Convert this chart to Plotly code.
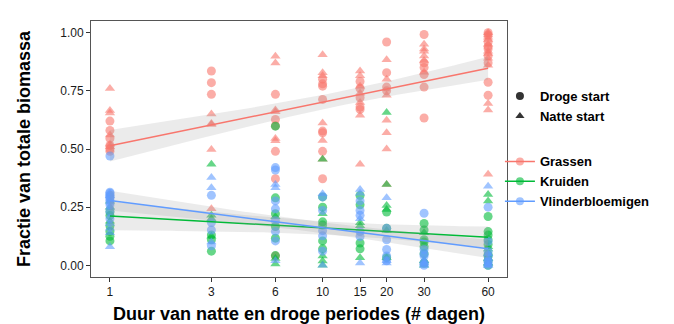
import numpy as np
import plotly.graph_objects as go

# ---- data ----
tick_vals = [1, 3, 6, 10, 15, 20, 30, 60]
tick_text = ["1", "3", "6", "10", "15", "20", "30", "60"]
y_ticks = [0, 0.25, 0.5, 0.75, 1.0]
y_tick_text = ["0.00", "0.25", "0.50", "0.75", "1.00"]

groups = ["Grassen", "Kruiden", "Vlinderbloemigen"]
colors = {"Grassen": "#F8766D", "Kruiden": "#00BA38", "Vlinderbloemigen": "#619CFF"}

grassen_droge = {
    1: [0.62, 0.58, 0.545, 0.515, 0.50, 0.49],
    3: [0.835, 0.785, 0.735],
    6: [0.735, 0.627, 0.60, 0.49, 0.372, 0.04],
    10: [0.80, 0.78, 0.77, 0.713, 0.577, 0.57, 0.49, 0.372],
    15: [0.79, 0.76, 0.72, 0.68, 0.67],
    20: [0.96, 0.828, 0.766, 0.75],
    30: [0.992, 0.87, 0.85, 0.82, 0.766, 0.633],
    60: [1.0, 0.99, 0.96, 0.94, 0.93, 0.90, 0.87, 0.787, 0.731],
}
grassen_natte = {
    1: [0.76, 0.665, 0.655, 0.56, 0.52, 0.51],
    3: [0.65, 0.61, 0.605, 0.498, 0.243],
    6: [0.898, 0.87, 0.668, 0.66, 0.545, 0.535],
    10: [0.905, 0.828, 0.815, 0.612, 0.536, 0.456],
    15: [0.835, 0.815, 0.77, 0.74, 0.70, 0.645, 0.434],
    20: [0.884, 0.80, 0.731, 0.623, 0.57, 0.50, 0.347],
    30: [0.95, 0.93, 0.92, 0.90, 0.88, 0.83],
    60: [1.0, 0.99, 0.98, 0.97, 0.95, 0.92, 0.91, 0.89, 0.86, 0.696, 0.668, 0.392],
}
kruiden_droge = {
    1: [0.23, 0.214, 0.17, 0.146, 0.125, 0.105],
    3: [0.131, 0.11, 0.061],
    6: [0.598, 0.29, 0.222, 0.167, 0.117, 0.042],
    10: [0.294, 0.25, 0.187, 0.173, 0.105, 0.071],
    15: [0.30, 0.26, 0.096, 0.071],
    20: [0.229, 0.159, 0.033],
    30: [0.18, 0.152, 0.11, 0.10, 0.08, 0.05, 0.01],
    60: [0.21, 0.145, 0.13, 0.11, 0.09, 0.047, 0.04, 0.02, 0.0],
}
kruiden_natte = {
    1: [0.276, 0.25, 0.19],
    3: [0.434, 0.215, 0.20, 0.125],
    6: [0.209, 0.03, 0.006],
    10: [0.456, 0.222, 0.04, 0.019, 0.0],
    15: [0.183, 0.17, 0.033],
    20: [0.657, 0.347, 0.257, 0.24, 0.15, 0.033],
    30: [0.14, 0.02, 0.0],
    60: [0.305, 0.277, 0.08, 0.07, 0.03, 0.01],
}
vlinder_droge = {
    1: [0.47, 0.314, 0.31, 0.30, 0.293, 0.29, 0.28, 0.27, 0.26, 0.23, 0.20],
    3: [0.301, 0.184, 0.152, 0.084],
    6: [0.42, 0.41, 0.277, 0.243, 0.192, 0.146, 0.105],
    10: [0.294, 0.236, 0.149, 0.127, 0.061],
    15: [0.277, 0.236, 0.215, 0.145, 0.124],
    20: [0.159, 0.11, 0.068, 0.04, 0.02],
    30: [0.224, 0.068, 0.05, 0.04, 0.01, 0.0],
    60: [0.25, 0.103, 0.06, 0.04, 0.02, 0.012, 0.0],
}
vlinder_natte = {
    1: [0.31, 0.30, 0.25, 0.18, 0.16, 0.14, 0.08],
    3: [0.378, 0.333, 0.10],
    6: [0.347, 0.333, 0.02],
    10: [0.308, 0.0],
    15: [0.326, 0.31, 0.20, 0.01],
    20: [0.29, 0.02, 0.01],
    30: [0.02, 0.01, 0.0],
    60: [0.34, 0.05, 0.03, 0.01, 0.0, 0.0],
}

series = {
    "Grassen": (grassen_droge, grassen_natte),
    "Kruiden": (kruiden_droge, kruiden_natte),
    "Vlinderbloemigen": (vlinder_droge, vlinder_natte),
}


def flatten(d):
    xs, ys = [], []
    for k, vals in d.items():
        for v in vals:
            xs.append(k)
            ys.append(v)
    return xs, ys


fig = go.Figure()

# points
for g in groups:
    for d, sym in zip(series[g], ["circle", "triangle-up"]):
        xs, ys = flatten(d)
        fig.add_trace(go.Scatter(
            x=xs, y=ys, mode="markers", showlegend=False,
            marker=dict(symbol=sym, size=9, color=colors[g], opacity=0.6,
                        line=dict(width=0)),
            hoverinfo="skip"))

# linear fits on log10(x) with 95% CI (like geom_smooth(method="lm"))
t95 = 1.97
for g in groups:
    xs, ys = [], []
    for d in series[g]:
        a, b = flatten(d)
        xs += a
        ys += b
    lx = np.log10(np.array(xs, float))
    yv = np.array(ys, float)
    n = len(lx)
    slope, intercept = np.polyfit(lx, yv, 1)
    resid = yv - (intercept + slope * lx)
    s = np.sqrt(np.sum(resid ** 2) / (n - 2))
    xbar = lx.mean()
    sxx = np.sum((lx - xbar) ** 2)
    grid = np.linspace(lx.min(), lx.max(), 80)
    fit = intercept + slope * grid
    se = s * np.sqrt(1.0 / n + (grid - xbar) ** 2 / sxx)
    up = fit + t95 * se
    lo = fit - t95 * se
    gx = 10 ** grid
    fig.add_trace(go.Scatter(
        x=np.concatenate([gx, gx[::-1]]), y=np.concatenate([up, lo[::-1]]),
        fill="toself", fillcolor="rgba(153,153,153,0.2)", line=dict(width=0),
        mode="lines", showlegend=False, hoverinfo="skip"))
    fig.add_trace(go.Scatter(
        x=gx, y=fit, mode="lines", line=dict(color=colors[g], width=1.5),
        showlegend=False, hoverinfo="skip"))

# legend 1: shapes
for name, sym in [("Droge start", "circle"), ("Natte start", "triangle-up")]:
    fig.add_trace(go.Scatter(
        x=[None], y=[None], mode="markers", name="<b>" + name + "</b>", legend="legend",
        marker=dict(symbol=sym, size=8, color="#333333")))

# legend 2: colours
for g in groups:
    fig.add_trace(go.Scatter(
        x=[None], y=[None], mode="lines+markers", name="<b>" + g + "</b>", legend="legend2",
        marker=dict(symbol="circle", size=8, color=colors[g], opacity=0.6),
        line=dict(color=colors[g], width=1.5)))

font_main = "Liberation Sans, Arial, sans-serif"

fig.update_layout(
    width=674, height=324,
    margin=dict(l=83, r=175, t=13, b=49),
    plot_bgcolor="white", paper_bgcolor="white",
    font=dict(family=font_main, color="#000000"),
    xaxis=dict(
        type="log", range=[-0.089, 1.867],
        tickvals=tick_vals, ticktext=tick_text,
        ticks="outside", ticklen=4, tickcolor="#333333", tickwidth=1,
        tickfont=dict(size=12, color="#1a1a1a"),
        showgrid=False, zeroline=False,
        showline=True, linecolor="#555555", linewidth=1, mirror=True,
        title=dict(text="<b>Duur van natte en droge periodes (# dagen)</b>",
                   font=dict(size=18, color="#000000"), standoff=8),
    ),
    yaxis=dict(
        range=[-0.05, 1.05],
        tickvals=y_ticks, ticktext=y_tick_text,
        ticks="outside", ticklen=4, tickcolor="#333333", tickwidth=1,
        tickfont=dict(size=12, color="#1a1a1a"),
        showgrid=False, zeroline=False,
        showline=True, linecolor="#555555", linewidth=1, mirror=True,
        title=dict(text="<b>Fractie van totale biomassa</b>",
                   font=dict(size=18, color="#000000"), standoff=24),
    ),
    legend=dict(x=0.983, y=0.765, xanchor="left", yanchor="top",
                font=dict(size=13, color="#000000"), bgcolor="rgba(0,0,0,0)",
                itemwidth=30, tracegroupgap=0),
    legend2=dict(x=0.983, y=0.51, xanchor="left", yanchor="top",
                 font=dict(size=13, color="#000000"), bgcolor="rgba(0,0,0,0)",
                 itemwidth=30, tracegroupgap=0),
)

fig.write_html("out.html")
